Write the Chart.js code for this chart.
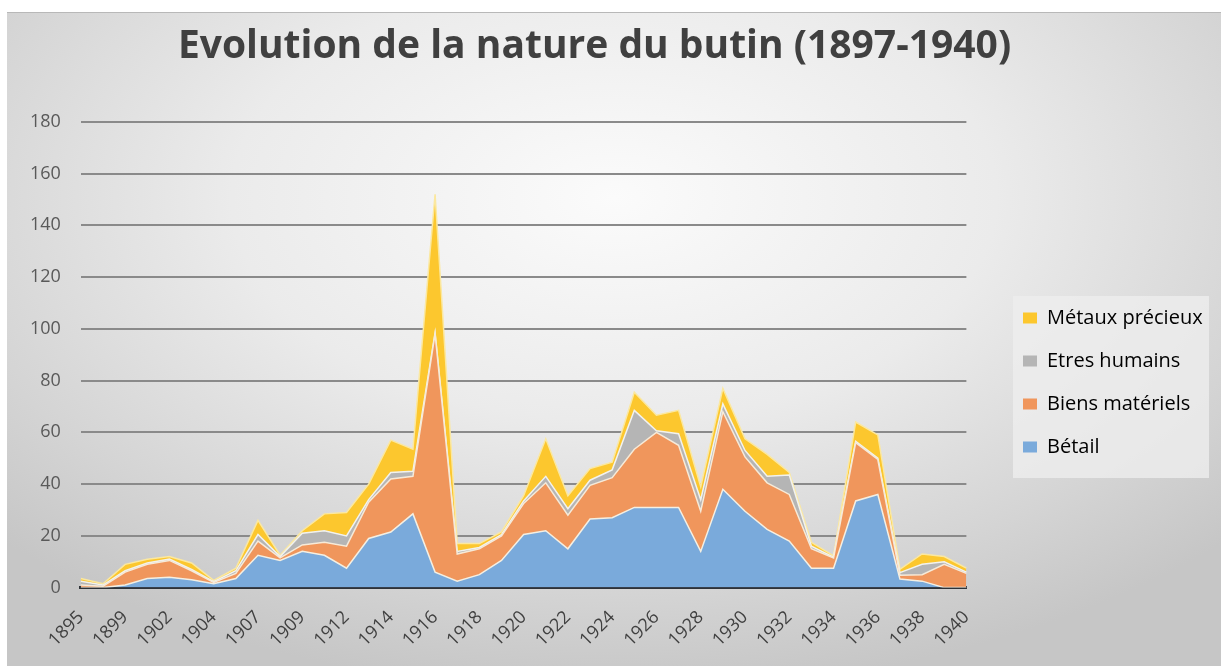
<!DOCTYPE html>
<html>
<head>
<meta charset="utf-8">
<script src="https://cdn.jsdelivr.net/npm/chart.js@4"></script>
<style>
  html, body { margin: 0; padding: 0; background: #fff; }
  #wrap {
    position: absolute; left: 7px; top: 12px; width: 1214px; height: 660px;
    border-top: 1px solid #b8b8b8;
    background: radial-gradient(ellipse 70% 75% at 50% 28%, #fbfbfb 0%, #ebebeb 45%, #d4d4d4 80%, #c6c6c6 100%);
  }
  canvas { display: block; }
</style>
</head>
<body>
<div id="wrap"><canvas id="butin"></canvas></div>
<script>
// years (every other label shown on the axis)
const years = ['1895','1897','1899','1900','1902','1903','1904','1906','1907','1908',
  '1909','1911','1912','1913','1914','1915','1916','1917','1918','1919',
  '1920','1921','1922','1923','1924','1925','1926','1927','1928','1929',
  '1930','1931','1932','1933','1934','1935','1936','1937','1938','1939','1940'];

const betail  = [0, 0, 1, 3.5, 4, 3, 1.5, 3.5, 12.5, 10.5, 14, 12.5, 7.5, 19, 21.5, 28.5, 6, 2.5, 5, 10.5,
  20.5, 22, 15, 26.5, 27, 31, 31, 31, 14, 38, 29.5, 22.5, 18, 7.5, 7.5, 33.5, 36, 3.3, 2.5, 0, 0];
const biens   = [1, 0.5, 5, 5.5, 6.5, 3.5, 0.5, 2, 5.5, 1, 2.5, 5, 8.5, 14, 20.5, 14.5, 92, 10.5, 10, 9.5,
  12, 18.5, 13, 13, 15.5, 22.5, 29, 24, 15.5, 30, 21, 18, 18, 7.5, 4, 22.5, 13.5, 1.5, 2.5, 9, 5.5];
const humains = [1.5, 0.5, 0.5, 0.5, 0.5, 0.5, 0.3, 1, 2.5, 0.5, 4.5, 4.5, 4, 1, 2.5, 2, 0.5, 1, 0.5, 0.5,
  1, 2.5, 2.5, 2, 3, 15, 0.6, 4.5, 4.5, 3, 2.5, 2.5, 7.5, 1, 0.3, 0.5, 0.5, 1, 4, 1, 0.5];
const metaux  = [1, 0.5, 2.5, 1.5, 1, 2.5, 0.5, 1, 5.5, 0.5, 1, 6.5, 9, 6, 12.5, 8.5, 53.5, 3, 1.5, 1,
  2, 14.5, 5, 4.5, 3, 7, 6, 9, 5, 6, 4.5, 8.5, 1, 1.5, 0.5, 7.5, 9, 1.3, 4, 2, 1.5];

const yTicks = [0, 20, 40, 60, 80, 100, 120, 140, 160, 180];

function area(label, data, fillColor, edge, fill) {
  return {
    label: label,
    data: data,
    backgroundColor: fillColor,
    borderColor: edge,
    borderWidth: 1.5,
    pointRadius: 0,
    tension: 0,
    fill: fill
  };
}

// legend sits further right than chart.js puts it, with a light box behind
const legendPlace = {
  id: 'legendPlace',
  afterLayout(chart) {
    const lg = chart.legend;
    const w = lg.width;
    lg.left = 993;
    lg.right = lg.left + w;
    lg.top = 272;
    lg.bottom = 470;
  },
  beforeDraw(chart) {
    const ctx = chart.ctx;
    ctx.save();
    ctx.fillStyle = 'rgba(238,238,238,0.8)';
    ctx.fillRect(1006, 283, 196, 182);
    ctx.restore();
  }
};

Chart.defaults.font.family = "'Open Sans', sans-serif";
Chart.defaults.color = '#595959';

new Chart(document.getElementById('butin'), {
  type: 'line',
  data: {
    labels: years,
    datasets: [
      area('Bétail', betail, '#7aaadb', '#f4efe2', 'origin'),
      area('Biens matériels', biens, '#f0965c', '#f6ead8', '-1'),
      area('Etres humains', humains, '#b5b5b5', '#f2f2ee', '-1'),
      area('Métaux précieux', metaux, '#fcc72e', '#fbe8a0', '-1')
    ]
  },
  plugins: [legendPlace],
  options: {
    responsive: true,
    maintainAspectRatio: false,
    animation: false,
    layout: { padding: { left: 3, right: 42, top: 0, bottom: 11 } },
    plugins: {
      title: {
        display: true,
        text: 'Evolution de la nature du butin (1897-1940)',
        color: '#404040',
        font: { size: 39, weight: 'bold' },
        padding: { top: 10, bottom: 52 }
      },
      legend: {
        position: 'right',
        align: 'start',
        reverse: true,
        labels: {
          color: '#404040',
          font: { size: 20 },
          boxWidth: 14,
          boxHeight: 11,
          padding: 23,
          generateLabels(chart) {
            return chart.data.datasets.map((ds, i) => ({
              text: ds.label,
              fillStyle: ds.backgroundColor,
              strokeStyle: ds.backgroundColor,
              lineWidth: 0,
              datasetIndex: i,
              hidden: false
            }));
          }
        }
      },
      tooltip: { enabled: false }
    },
    scales: {
      x: {
        grid: { display: false },
        border: { color: '#2e3238', width: 3 },
        ticks: {
          autoSkip: false,
          maxRotation: 45,
          minRotation: 45,
          padding: 11,
          font: { size: 18 },
          color: '#404040',
          callback: function(value, index) {
            return index % 2 === 0 ? years[index] : '';
          }
        }
      },
      y: {
        stacked: true,
        min: 0,
        max: 180,
        afterBuildTicks: axis => { axis.ticks = yTicks.map(v => ({ value: v })); },
        grid: { color: '#8a8a8a', lineWidth: 2, drawTicks: false },
        border: { display: false },
        ticks: { font: { size: 18 }, color: '#595959', padding: 20 }
      }
    }
  }
});
</script>
</body>
</html>
